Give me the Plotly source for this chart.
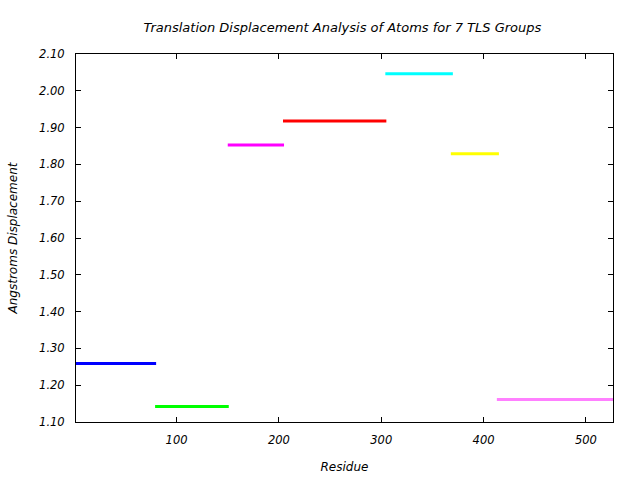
import plotly.graph_objects as go

# TLS group residue ranges and mean translation displacement
group_start = [1, 79, 150, 204, 304, 368, 413]
group_end = [80, 151, 205, 305, 370, 415, 527]
displacement = [1.259, 1.142, 1.853, 1.918, 2.046, 1.829, 1.161]

x_ticks = [100, 200, 300, 400, 500]
y_ticks = [1.10, 1.20, 1.30, 1.40, 1.50, 1.60, 1.70, 1.80, 1.90, 2.00, 2.10]

colors = ["#0000ff", "#00ff00", "#ff00ff", "#ff0000", "#00ffff", "#ffff00", "#ff80ff"]

fig = go.Figure()
for s, e, v, c in zip(group_start, group_end, displacement, colors):
    fig.add_trace(go.Scatter(x=[s, e], y=[v, v], mode="lines",
                             line=dict(color=c, width=3), showlegend=False,
                             hoverinfo="skip"))

tick_font = dict(family="DejaVu Sans", size=11.5, color="black", style="italic")
title_font = dict(family="DejaVu Sans", size=12, color="black", style="italic")
fig.update_layout(
    width=640, height=480,
    margin=dict(l=76, r=27, t=54, b=58),
    paper_bgcolor="white", plot_bgcolor="white",
    font=title_font,
    title=dict(text="Translation Displacement Analysis of Atoms for 7 TLS Groups",
               x=0.535, xanchor="center", y=0.943, yanchor="middle",
               font=dict(family="DejaVu Sans", size=13, color="black", style="italic")),
    xaxis=dict(range=[1.7, 526.5], tickvals=x_ticks, ticks="inside", ticklen=5,
               showline=True, linecolor="black", linewidth=1, mirror="ticks",
               showgrid=False, zeroline=False, tickcolor="black", automargin=False,
               tickfont=tick_font, ticklabelstandoff=7,
               title=dict(text="Residue", standoff=16, font=title_font)),
    yaxis=dict(range=[1.10, 2.10], tickvals=y_ticks, tickformat=".2f",
               ticks="inside", ticklen=5, automargin=False,
               showline=True, linecolor="black", linewidth=1, mirror="ticks",
               showgrid=False, zeroline=False, tickcolor="black",
               tickfont=tick_font, ticklabelstandoff=8,
               title=dict(text="Angstroms Displacement", standoff=18, font=title_font)),
)

fig.write_html("out.html")
